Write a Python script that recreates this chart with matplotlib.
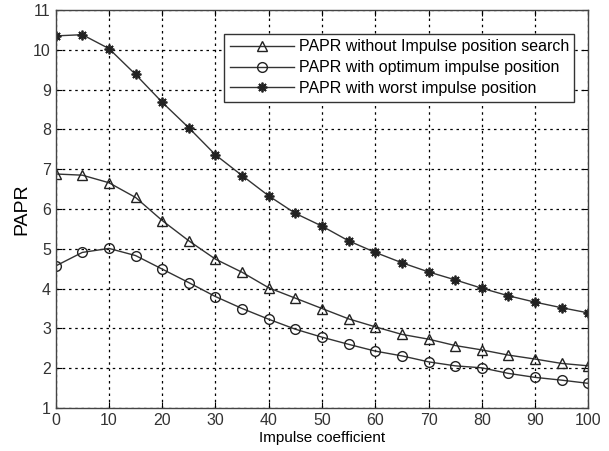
import matplotlib.pyplot as plt
import numpy as np

plt.rcParams['font.family'] = ['Liberation Sans', 'DejaVu Sans']

# impulse coefficient
coef = np.arange(0, 101, 5)

papr_nosearch = [6.88, 6.85, 6.66, 6.29, 5.71, 5.20, 4.74, 4.41, 4.02, 3.76, 3.50,
                 3.24, 3.04, 2.85, 2.73, 2.57, 2.46, 2.33, 2.23, 2.12, 2.06]
papr_optimum = [4.57, 4.91, 5.01, 4.83, 4.49, 4.15, 3.80, 3.50, 3.23, 2.98, 2.78,
                2.60, 2.43, 2.31, 2.16, 2.06, 2.01, 1.87, 1.77, 1.70, 1.62]
papr_worst = [10.35, 10.38, 10.03, 9.38, 8.68, 8.04, 7.36, 6.84, 6.33, 5.89, 5.57,
              5.20, 4.91, 4.65, 4.42, 4.22, 4.01, 3.82, 3.66, 3.52, 3.39]

fig = plt.figure(figsize=(6.09, 4.51), dpi=100)
ax = fig.add_axes([0.0915, 0.0953, 0.8745, 0.8825])

ax.plot(coef, papr_nosearch, '-', color='#333333', lw=1, marker='^', ms=7.5,
        mfc='none', mec='#222222', label='PAPR without Impulse position search')
ax.plot(coef, papr_optimum, '-', color='#333333', lw=1, marker='o', ms=7,
        mfc='none', mec='#222222', label='PAPR with optimum impulse position')
ax.plot(coef, papr_worst, '-', color='#333333', lw=1, marker=(8, 2, 0), ms=7,
        mew=1.3, mec='#222222', label='PAPR with worst impulse position')

ax.set_xlim(0, 100)
ax.set_ylim(1, 11)
ax.set_xticks(np.arange(0, 101, 10))
ax.set_yticks(np.arange(1, 12, 1))
ax.grid(True, color='black', linestyle=(0, (2, 3)), linewidth=0.9)
ax.tick_params(direction='in', top=True, right=True, labelsize=11.5,
               labelcolor='#333333', length=4)
for s in ax.spines.values():
    s.set_color('#444444')
    s.set_linewidth(1)

ax.set_xlabel('Impulse coefficient', fontsize=11, labelpad=2)
ax.set_ylabel('PAPR', fontsize=14, labelpad=2)

leg = ax.legend(loc='upper right', bbox_to_anchor=(0.974, 0.94), fontsize=11.5,
                fancybox=False, framealpha=1, edgecolor='#333333',
                borderpad=0.35, labelspacing=0.36, handlelength=4.0,
                handletextpad=0.3, borderaxespad=0)
leg.get_frame().set_linewidth(1)

fig.savefig('out.png', dpi=100)
